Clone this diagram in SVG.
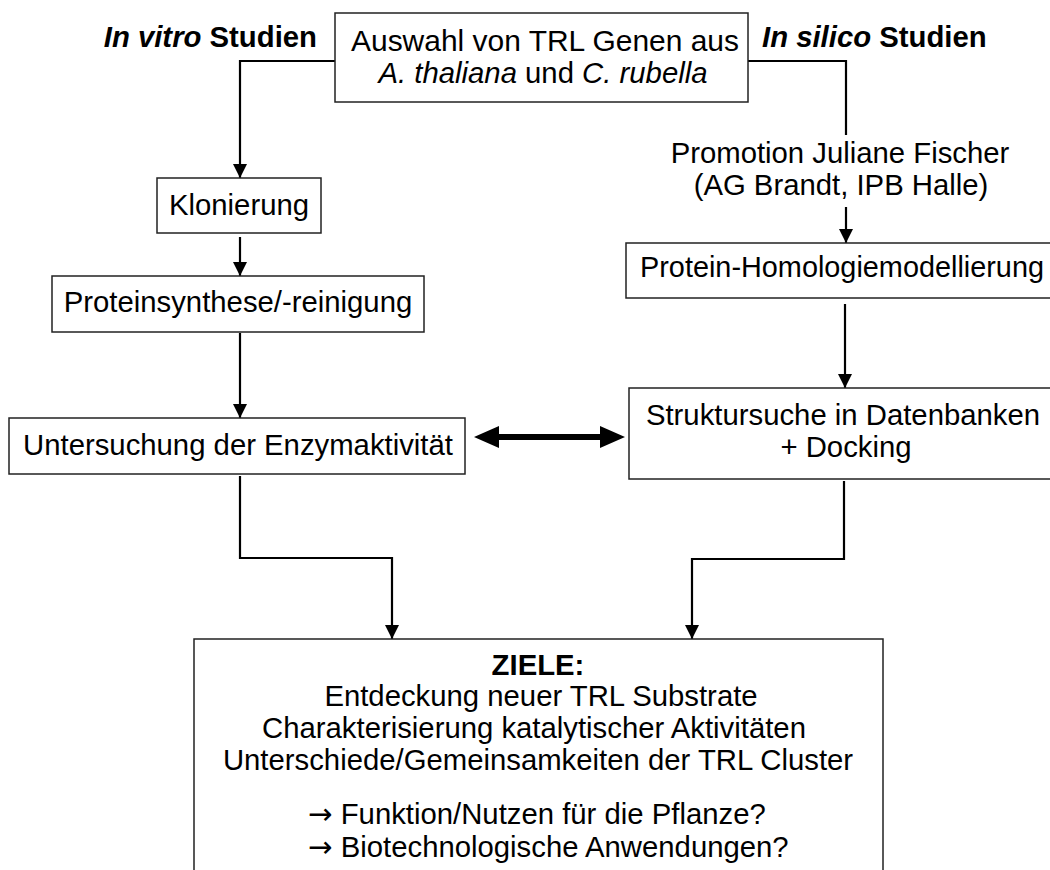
<svg xmlns="http://www.w3.org/2000/svg" width="1050" height="870" viewBox="0 0 1050 870">
<style>
text { font-family: "Liberation Sans", Arial, sans-serif; font-size: 29.3px; fill: #000; }
.c { text-anchor: middle; }
.b { font-weight: bold; }
.i { font-style: italic; }
.ar { font-family: "DejaVu Sans", sans-serif; }
.box { fill: #fff; stroke: #222; stroke-width: 1.5; }
.con { fill: none; stroke: #000; stroke-width: 2.2; }
</style>
<defs>
<marker id="ah" markerWidth="14" markerHeight="14" refX="14" refY="7" orient="auto" markerUnits="userSpaceOnUse">
<path d="M0,0 L14,7 L0,14 Z" fill="#000"/>
</marker>
</defs>
<rect width="1050" height="870" fill="#fff"/>

<g id="connectors">
<path class="con" d="M335 61 H240 V178" marker-end="url(#ah)"/>
<path class="con" d="M748 61 H846 V135"/>
<path class="con" d="M240 237 V276" marker-end="url(#ah)"/>
<path class="con" d="M240 333 V418" marker-end="url(#ah)"/>
<path class="con" d="M846 207 V243" marker-end="url(#ah)"/>
<path class="con" d="M845 304 V388" marker-end="url(#ah)"/>
<path class="con" d="M240 476 V558 H392 V639" marker-end="url(#ah)"/>
<path class="con" d="M844 481 V559 H692 V639" marker-end="url(#ah)"/>
<path d="M474 437 L499 426 L499 434 L600 434 L600 426 L625 437 L600 448 L600 440 L499 440 L499 448 Z" fill="#000"/>
</g>

<g id="label-invitro">
<text x="317" y="47" text-anchor="end"><tspan class="b i">In vitro</tspan><tspan class="b"> Studien</tspan></text>
</g>
<g id="label-insilico">
<text x="762" y="47"><tspan class="b i">In silico</tspan><tspan class="b"> Studien</tspan></text>
</g>

<g id="node-auswahl">
<rect class="box" x="335" y="13" width="413" height="89"/>
<text class="c" x="545" y="51" textLength="388" lengthAdjust="spacingAndGlyphs">Auswahl von TRL Genen aus</text>
<text class="c" x="543" y="83"><tspan class="i">A. thaliana</tspan> und <tspan class="i">C. rubella</tspan></text>
</g>

<g id="node-klonierung">
<rect class="box" x="157" y="178" width="164" height="55"/>
<text class="c" x="239" y="215">Klonierung</text>
</g>

<g id="node-proteinsynthese">
<rect class="box" x="52" y="276" width="372" height="56"/>
<text class="c" x="238" y="312">Proteinsynthese/-reinigung</text>
</g>

<g id="node-untersuchung">
<rect class="box" x="9" y="418" width="456" height="56"/>
<text class="c" x="238" y="455">Untersuchung der Enzymaktivität</text>
</g>

<g id="node-promotion">
<text class="c" x="840" y="163">Promotion Juliane Fischer</text>
<text class="c" x="841" y="195">(AG Brandt, IPB Halle)</text>
</g>

<g id="node-homologie">
<rect class="box" x="626" y="243" width="430" height="55"/>
<text x="640" y="277" textLength="404" lengthAdjust="spacingAndGlyphs">Protein-Homologiemodellierung</text>
</g>

<g id="node-struktursuche">
<rect class="box" x="629" y="388" width="427" height="91"/>
<text class="c" x="843" y="425">Struktursuche in Datenbanken</text>
<text class="c" x="846" y="457">+ Docking</text>
</g>

<g id="node-ziele">
<rect class="box" x="194" y="639" width="689" height="240"/>
<text class="c b" x="538" y="675">ZIELE:</text>
<text class="c" x="541" y="706">Entdeckung neuer TRL Substrate</text>
<text class="c" x="534" y="738">Charakterisierung katalytischer Aktivitäten</text>
<text class="c" x="538" y="770">Unterschiede/Gemeinsamkeiten der TRL Cluster</text>
<text x="308" y="824"><tspan class="ar">→</tspan> Funktion/Nutzen für die Pflanze?</text>
<text x="308" y="857"><tspan class="ar">→</tspan> Biotechnologische Anwendungen?</text>
</g>
</svg>
